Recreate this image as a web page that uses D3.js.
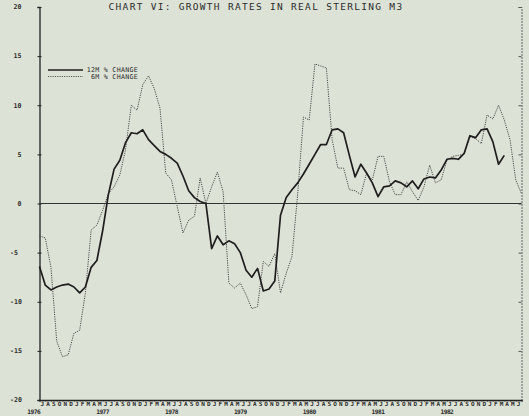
<!DOCTYPE html>
<html>
<head>
<meta charset="utf-8">
<script src="https://cdn.jsdelivr.net/npm/d3@7"></script>
<style>
  html, body { margin: 0; padding: 0; background: #dde2d6; }
  svg { display: block; }
  text { font-family: "DejaVu Sans Mono", monospace; fill: #2b2b2b; }
</style>
</head>
<body>
<svg id="chart" width="529" height="416"></svg>
<script>
// Monthly growth rates of real sterling M3, % change (months from the axis start)
const change12m = [
  -6.4, -8.3, -8.8, -8.5, -8.3, -8.2, -8.5, -9.1, -8.5, -6.5, -5.8, -2.8,
   0.9,  3.5,  4.4,  6.2,  7.2,  7.1,  7.5,  6.5,  5.9,  5.3,  5.0,  4.6,
   4.1,  2.8,  1.3,  0.6,  0.2,  0.0, -4.6, -3.3, -4.2, -3.8, -4.1, -5.0,
  -6.8, -7.5, -6.6, -8.9, -8.7, -7.9, -1.2,  0.6,  1.4,  2.1,  3.0,  4.0,
   5.0,  6.0,  6.0,  7.5,  7.6,  7.2,  4.9,  2.7,  4.0,  3.1,  2.1,  0.7,
   1.7,  1.8,  2.3,  2.1,  1.7,  2.3,  1.5,  2.5,  2.7,  2.6,  3.4,  4.5,
   4.6,  4.5,  5.1,  6.9,  6.7,  7.5,  7.6,  6.3,  4.0,  4.9
];
const change6m = [
  -3.3, -3.5, -6.5, -14.0, -15.6, -15.4, -13.2, -12.9, -9.1, -2.7, -2.2, -0.7,
   1.0,  1.7,  2.9,  5.5, 10.0,  9.5, 12.1, 13.0, 11.7,  9.7,  3.1,  2.4,
  -0.3, -3.0, -1.7, -1.3,  2.6,  0.0,  1.7,  3.2,  1.2, -8.1, -8.6, -8.1,
  -9.3, -10.7, -10.5, -5.9, -6.4, -5.1, -9.1, -7.1, -5.4,  1.0,  8.8,  8.5,
  14.2, 14.0, 13.8,  6.5,  3.6,  3.6,  1.4,  1.3,  0.9,  3.1,  2.4,  4.8,
   4.8,  2.2,  0.9,  0.9,  2.2,  1.2,  0.3,  1.7,  3.9,  2.1,  2.4,  4.4,
   4.8,  4.9,  5.0,  6.8,  6.6,  6.1,  9.0,  8.6, 10.0,  8.5,  6.5,  2.4,  1.0
];
const yTicks = [20, 15, 10, 5, 0, -5, -10, -15, -20];
const monthLetters = "JASONDJFMAMJ".repeat(7).split("");
const yearLabels = ["1976", "1977", "1978", "1979", "1980", "1981", "1982"];
const legendLabels = ["12M % CHANGE", " 6M % CHANGE"];
const title = "CHART VI: GROWTH RATES IN REAL STERLING M3";

const svg = d3.select("#chart");
const x = d3.scaleLinear().domain([0, 84]).range([39.5, 521.5]);
const y = d3.scaleLinear().domain([-20, 20]).range([400, 7]);

// Title
svg.append("text")
  .attr("x", 256).attr("y", 10)
  .attr("text-anchor", "middle")
  .attr("font-size", 9.5).attr("letter-spacing", 1.3)
  .text(title);

// Left axis with small cross ticks
const left = svg.append("g").attr("transform", `translate(${x(0)},0)`)
  .call(d3.axisLeft(y).tickValues(yTicks).tickSize(2).tickFormat(""));
left.select(".domain").attr("stroke", "#222").attr("stroke-width", 1.3);
left.selectAll(".tick line").attr("x2", 2).attr("x1", -2).attr("stroke", "#222");

// Right frame, lighter
const right = svg.append("g").attr("transform", `translate(${x(84)},0)`)
  .call(d3.axisLeft(y).tickValues(yTicks).tickSize(3).tickFormat(""));
right.select(".domain").attr("stroke", "#555").attr("stroke-width", 0.9)
  .attr("stroke-dasharray", "2,1");
right.selectAll(".tick line").attr("stroke", "#555");

// Y labels: non-negative right aligned, negative left aligned
svg.append("g").selectAll("text").data(yTicks).join("text")
  .attr("x", d => d < 0 ? 10 : 21.5)
  .attr("y", d => y(d) + 2.3)
  .attr("text-anchor", d => d < 0 ? "start" : "end")
  .attr("font-size", 6.6).attr("font-weight", "bold")
  .text(d => d);

// Bottom axis with month letters
const bottom = svg.append("g").attr("transform", `translate(0,${y(-20)})`)
  .call(d3.axisBottom(x).tickValues(d3.range(0, 85)).tickSize(1.5).tickFormat(""));
bottom.select(".domain").attr("stroke", "#222").attr("stroke-width", 1.3);
bottom.selectAll(".tick line").attr("stroke", "#222");

svg.append("g").selectAll("text").data(monthLetters).join("text")
  .attr("x", (d, i) => x(i) + 2.9)
  .attr("y", y(-20) + 6.4)
  .attr("text-anchor", "middle")
  .attr("font-size", 6).attr("font-weight", "bold")
  .text(d => d);

svg.append("g").selectAll("text").data(yearLabels).join("text")
  .attr("x", (d, i) => x(12 * i - 1))
  .attr("y", y(-20) + 14)
  .attr("text-anchor", "middle")
  .attr("font-size", 6.2).attr("font-weight", "bold").attr("letter-spacing", -0.5)
  .text(d => d);

// Zero line
svg.append("line")
  .attr("x1", x(0)).attr("x2", x(84))
  .attr("y1", y(0)).attr("y2", y(0))
  .attr("stroke", "#333").attr("stroke-width", 1.2);

const line = d3.line().x((d, i) => x(i)).y(d => y(d));

svg.append("path").datum(change6m)
  .attr("d", line).attr("fill", "none")
  .attr("stroke", "#4a4a4a").attr("stroke-width", 1)
  .attr("stroke-dasharray", "1.2,1.1");

svg.append("path").datum(change12m)
  .attr("d", line).attr("fill", "none")
  .attr("stroke", "#1e1e1e").attr("stroke-width", 1.7)
  .attr("stroke-linejoin", "round");

// Legend
const legend = svg.append("g");
[0, 1].forEach(i => {
  const ly = 70 + i * 6.5;
  legend.append("line")
    .attr("x1", 48).attr("x2", 83).attr("y1", ly).attr("y2", ly)
    .attr("stroke", i === 0 ? "#1e1e1e" : "#4a4a4a")
    .attr("stroke-width", i === 0 ? 1.3 : 0.9)
    .attr("stroke-dasharray", i === 0 ? null : "1.2,1.1");
  legend.append("text")
    .attr("x", 138).attr("y", ly + 2)
    .attr("text-anchor", "end")
    .attr("xml:space", "preserve")
    .style("white-space", "pre")
    .attr("font-size", 6.6).attr("letter-spacing", 0.3)
    .text(legendLabels[i]);
});
</script>
</body>
</html>
